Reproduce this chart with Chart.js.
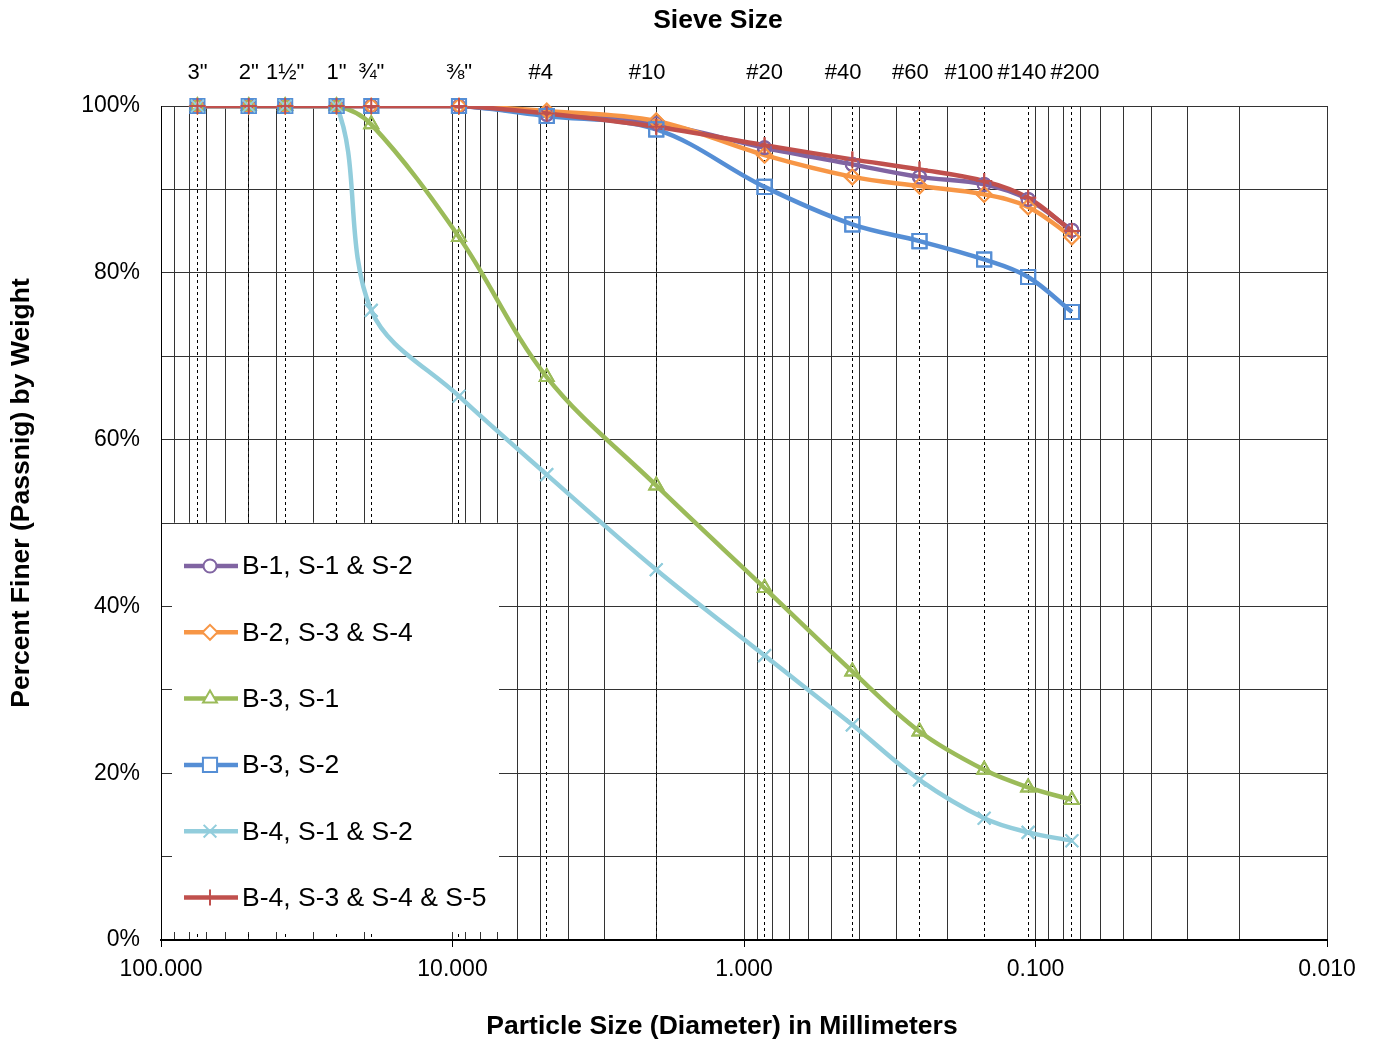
<!DOCTYPE html>
<html>
<head>
<meta charset="utf-8">
<title>Gradation Curves</title>
<script src="https://cdn.jsdelivr.net/npm/chart.js@4.4.1/dist/chart.umd.min.js"></script>
<style>
  html, body { margin: 0; padding: 0; background: #fff; }
  #wrap { width: 1377px; height: 1044px; }
</style>
</head>
<body>
<div id="wrap"><canvas id="gradationChart" width="1377" height="1044"></canvas></div>
<script>
// ==========================================
// SIEVE ANALYSIS - GRADATION CURVES
// ==========================================

// sieve openings (mm) and their names on the top axis
const sieveSizes = [75, 50, 37.5, 25, 19, 9.5, 4.75, 2.0, 0.85, 0.425, 0.25, 0.15, 0.106, 0.075];
const sieveLabels = ['3"', '2"', '1½"', '1"', '¾"', '⅜"', '#4', '#10', '#20', '#40', '#60', '#100', '#140', '#200'];

// labelled ticks
const sizeTicks = [100, 10, 1, 0.1, 0.01];
const percentTicks = [0, 20, 40, 60, 80, 100];

// percent passing, one value per sieve
const b1s1s2 = [100, 100, 100, 100, 100, 100, 99.0, 97.9, 95.0, 93.0, 91.5, 90.6, 88.8, 85.1];
const b2s3s4 = [100, 100, 100, 100, 100, 100, 99.4, 98.2, 94.1, 91.5, 90.4, 89.4, 87.9, 84.3];
const b3s1 = [100, 100, 100, 100, 97.8, 84.3, 67.5, 54.5, 42.2, 32.2, 25.0, 20.4, 18.3, 16.8];
const b3s2 = [100, 100, 100, 100, 100, 100, 98.8, 97.2, 90.3, 85.8, 83.8, 81.6, 79.5, 75.3];
const b4s1s2 = [100, 100, 100, 100, 75.5, 65.2, 55.8, 44.4, 34.1, 25.8, 19.2, 14.6, 12.9, 11.9];
const b4s3s4s5 = [100, 100, 100, 100, 100, 100, 99.1, 97.5, 95.3, 93.6, 92.4, 91.0, 89.0, 85.0];

const FONT = '"Liberation Sans", Arial, sans-serif';
Chart.defaults.font.family = FONT;
Chart.defaults.color = '#000';

function points(values) {
  return sieveSizes.map((s, i) => ({ x: s, y: values[i] }));
}

// lower order = drawn on top (red ends up on top like the original)
function curve(label, values, color, marker, radius, order) {
  return {
    label: label,
    data: points(values),
    borderColor: color,
    backgroundColor: color,
    borderWidth: 4.5,
    pointStyle: marker,
    pointRadius: radius,
    pointHoverRadius: radius,
    pointBorderWidth: 2,
    pointBorderColor: color,
    pointBackgroundColor: 'rgba(0,0,0,0)',
    tension: 0.35,
    order: order,
  };
}

// 1-9 x each decade, used for the log grid
function logGrid() {
  const out = [];
  for (let e = -2; e <= 1; e++) {
    for (let k = 1; k <= 9; k++) out.push(+(k * Math.pow(10, e)).toPrecision(3));
  }
  out.push(100);
  return out;
}

// crowded sieve labels get pulled a little off their tick
const labelNudge = { '#4': 2, '#10': 3, '#40': 3, '#60': 3, '#100': 5, '#140': 2, '#200': -1 };
function nudge(text) {
  const n = labelNudge[text] || 0;
  return n > 0 ? text + ' '.repeat(n) : ' '.repeat(-n) + text;
}

// white legend box sitting inside the plot, over the grid
const insetLegend = {
  id: 'insetLegend',
  beforeDatasetsDraw(chart) {
    const { ctx, chartArea, scales } = chart;
    const left = chartArea.left + 11;
    const top = scales.y.getPixelForValue(50) + 1;
    const width = 327;
    const bottom = chartArea.bottom - 8;

    ctx.save();
    ctx.fillStyle = '#fff';
    ctx.fillRect(left, top, width, bottom - top);

    chart.data.datasets.forEach((ds, i) => {
      const y = top + 42 + i * 66.3;
      ctx.strokeStyle = ds.borderColor;
      ctx.lineWidth = 4.5;
      ctx.beginPath();
      ctx.moveTo(left + 12, y);
      ctx.lineTo(left + 66, y);
      ctx.stroke();

      ctx.fillStyle = '#fff';
      ctx.lineWidth = 2;
      Chart.helpers.drawPoint(ctx, {
        pointStyle: ds.pointStyle,
        radius: ds.pointRadius,
        borderWidth: 2,
        rotation: 0,
      }, left + 38, y);

      ctx.fillStyle = '#000';
      ctx.font = '26.5px ' + FONT;
      ctx.textAlign = 'left';
      ctx.textBaseline = 'middle';
      ctx.fillText(ds.label, left + 70, y + 1);
    });
    ctx.restore();
  },
};

// markers on the 100% line would be cut by the plot clip, so draw them again
const redrawPoints = {
  id: 'redrawPoints',
  afterDatasetsDraw(chart) {
    const metas = chart.getSortedVisibleDatasetMetas();
    for (let i = metas.length - 1; i >= 0; i--) {
      metas[i].data.forEach((pt) => pt.draw(chart.ctx, chart.chartArea));
    }
  },
};

// axis titles
const axisTitles = {
  id: 'axisTitles',
  afterDraw(chart) {
    const { ctx, chartArea } = chart;
    const midX = (chartArea.left + chartArea.right) / 2;
    const midY = (chartArea.top + chartArea.bottom) / 2;
    ctx.save();
    ctx.fillStyle = '#000';
    ctx.font = 'bold 26.5px ' + FONT;
    ctx.textAlign = 'center';
    ctx.textBaseline = 'middle';
    ctx.fillText('Sieve Size', midX - 26, 21);
    ctx.fillText('Particle Size (Diameter) in Millimeters', midX - 22, 1027);
    ctx.translate(22, midY - 30);
    ctx.rotate(-Math.PI / 2);
    ctx.fillText('Percent Finer (Passnig) by Weight', 0, 0);
    ctx.restore();
  },
};

const gradationConfig = {
  type: 'line',
  data: {
    datasets: [
      curve('B-1, S-1 & S-2', b1s1s2, '#8064A2', 'circle', 6.5, 6),
      curve('B-2, S-3 & S-4', b2s3s4, '#F79646', 'rectRot', 7.5, 5),
      curve('B-3, S-1', b3s1, '#9BBB59', 'triangle', 8, 4),
      curve('B-3, S-2', b3s2, '#558ED5', 'rect', 10, 3),
      curve('B-4, S-1 & S-2', b4s1s2, '#92CDDC', 'crossRot', 9, 2),
      curve('B-4, S-3 & S-4 & S-5', b4s3s4s5, '#C0504D', 'cross', 8, 1),
    ],
  },
  options: {
    responsive: false,
    animation: false,
    layout: { padding: { left: 0, right: 50, top: 0, bottom: 0 } },
    plugins: {
      legend: { display: false },
      title: { display: false },
      tooltip: { enabled: false },
    },
    scales: {
      x: {
        type: 'logarithmic',
        position: 'bottom',
        reverse: true,
        min: 0.01,
        max: 100,
        afterBuildTicks: (scale) => {
          scale.ticks = logGrid().map((v) => ({ value: v }));
        },
        afterFit: (scale) => {
          scale.height = 104;
          scale.paddingLeft = 0;
          scale.paddingRight = 0;
        },
        ticks: {
          autoSkip: false,
          maxRotation: 0,
          padding: 9,
          font: { size: 23 },
          callback: function (value) {
            return sizeTicks.includes(value) ? value.toFixed(3) : '';
          },
        },
        grid: {
          color: '#333',
          lineWidth: 1,
          tickLength: 7,
          tickColor: (ctx) =>
            ctx.tick && sizeTicks.includes(ctx.tick.value) ? '#000' : 'rgba(0,0,0,0)',
        },
        border: { color: '#000', width: 2 },
      },
      x2: {
        type: 'logarithmic',
        position: 'top',
        reverse: true,
        min: 0.01,
        max: 100,
        afterBuildTicks: (scale) => {
          scale.ticks = sieveSizes.map((v) => ({ value: v }));
        },
        afterFit: (scale) => {
          scale.height = 106;
          scale.paddingLeft = 0;
          scale.paddingRight = 0;
        },
        ticks: {
          autoSkip: false,
          maxRotation: 0,
          padding: 20,
          font: { size: 22 },
          callback: function (value, index) {
            return nudge(sieveLabels[index]);
          },
        },
        grid: { color: '#000', lineWidth: 1, drawTicks: false },
        border: { display: false, dash: [3, 3] },
      },
      y: {
        min: 0,
        max: 100,
        afterFit: (scale) => {
          scale.width = 161;
          scale.paddingTop = 0;
          scale.paddingBottom = 0;
        },
        ticks: {
          stepSize: 10,
          padding: 21,
          font: { size: 23 },
          callback: function (value) {
            return percentTicks.includes(value) ? value + '%' : '';
          },
        },
        grid: { color: '#333', lineWidth: 1, drawTicks: false },
        border: { color: '#000', width: 1 },
      },
    },
  },
  plugins: [insetLegend, redrawPoints, axisTitles],
};

const gradationChart = new Chart(
  document.getElementById('gradationChart'),
  gradationConfig
);
</script>
</body>
</html>
